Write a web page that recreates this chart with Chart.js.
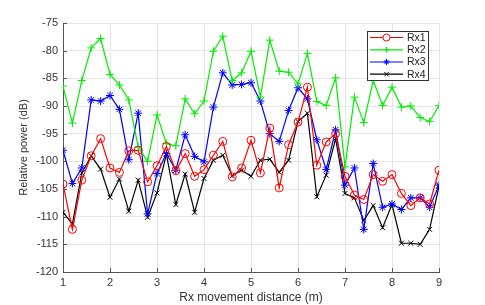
<!DOCTYPE html>
<html><head><meta charset="utf-8">
<script src="https://cdn.jsdelivr.net/npm/chart.js@4.4.0/dist/chart.umd.min.js"></script>
<style>html,body{margin:0;padding:0;background:#fff}#wrap{width:485px;height:305px}</style>
</head><body><div id="wrap"><canvas id="c" width="485" height="305"></canvas></div>
<script>
const distances = [1.0,1.2,1.4,1.6,1.8,2.0,2.2,2.4,2.6,2.8,3.0,3.2,3.4,3.6,3.8,4.0,4.2,4.4,4.6,4.8,5.0,5.2,5.4,5.6,5.8,6.0,6.2,6.4,6.6,6.8,7.0,7.2,7.4,7.6,7.8,8.0,8.2,8.4,8.6,8.8,9.0];
const rx1 = [-104.1,-112.3,-103.4,-99.0,-95.9,-101.2,-102.0,-98.1,-98.0,-103.7,-100.8,-97.3,-101.7,-98.6,-102.7,-101.5,-98.9,-96.4,-102.8,-101.2,-96.2,-102.1,-94.0,-104.8,-97.0,-92.9,-86.6,-100.7,-96.5,-95.0,-102.7,-106.1,-106.9,-102.4,-103.6,-102.4,-105.8,-108.0,-106.6,-107.7,-101.6];
const rx2 = [-86.4,-93.1,-85.4,-79.5,-77.8,-84.3,-86.2,-88.9,-97.4,-100.0,-91.6,-96.8,-97.2,-88.7,-91.4,-89.1,-80.1,-77.4,-85.4,-84.0,-80.1,-88.4,-78.1,-83.7,-83.9,-86.0,-80.5,-89.2,-89.9,-84.9,-101.0,-88.4,-93.0,-85.4,-89.9,-86.6,-90.2,-90.0,-92.1,-92.8,-89.9];
const rx3 = [-98.0,-104.0,-101.2,-88.9,-89.1,-88.1,-90.6,-99.7,-91.3,-109.5,-102.2,-98.6,-101.6,-95.2,-99.1,-100.1,-90.2,-84.0,-86.2,-86.1,-85.8,-89.1,-95.0,-96.4,-90.8,-86.7,-88.7,-96.1,-101.5,-94.3,-104.3,-101.2,-112.3,-100.4,-108.3,-107.7,-108.7,-106.6,-106.6,-108.3,-104.3];
const rx4 = [-109.2,-111.3,-102.1,-99.0,-101.4,-106.5,-103.2,-109.0,-103.4,-110.1,-105.7,-98.7,-107.8,-102.3,-109.2,-103.1,-99.8,-98.9,-102.6,-101.6,-102.7,-99.8,-99.6,-102.0,-99.8,-92.8,-91.3,-106.4,-102.5,-95.9,-105.8,-106.6,-110.7,-108.0,-112.0,-107.8,-114.8,-114.8,-115.0,-112.3,-104.5];
const seriesNames = ['Rx1','Rx2','Rx3','Rx4'];
const xTicks = [1,2,3,4,5,6,7,8,9];
const yTicks = [-120,-115,-110,-105,-100,-95,-90,-85,-80,-75];

const styles = [
  {color:'#ff0000', pointStyle:'circle', radius:4},
  {color:'#00ee00', pointStyle:'cross', radius:4},
  {color:'#0000ff', pointStyle:'star', radius:4},
  {color:'#000000', pointStyle:'crossRot', radius:3.5}
];
const allData = [rx1, rx2, rx3, rx4];
const datasets = allData.map((arr,i)=>({
  label: seriesNames[i],
  data: arr.map((v,j)=>({x:distances[j], y:v})),
  borderColor: styles[i].color,
  backgroundColor: 'rgba(0,0,0,0)',
  pointBorderColor: styles[i].color,
  pointBackgroundColor: 'rgba(0,0,0,0)',
  pointStyle: styles[i].pointStyle,
  pointRadius: styles[i].radius,
  pointBorderWidth: 1,
  borderWidth: 1.2,
  tension: 0
}));

const FONT = 'Liberation Sans, Arial, Helvetica, sans-serif';

const extras = {
  id:'extras',
  afterDraw(chart){
    const ctx = chart.ctx;
    const xs = chart.scales.x, ys = chart.scales.y;
    const a = chart.chartArea;
    ctx.save();
    ctx.strokeStyle = '#555';
    ctx.lineWidth = 1;
    ctx.beginPath();
    xTicks.forEach(t=>{const px=Math.round(xs.getPixelForValue(t))+0.5; ctx.moveTo(px,a.bottom); ctx.lineTo(px,a.bottom-4);});
    yTicks.forEach(t=>{const py=Math.round(ys.getPixelForValue(t))+0.5; ctx.moveTo(a.left,py); ctx.lineTo(a.left+4,py);});
    ctx.stroke();
    const lx=367, ly=31, lw=61, lh=49;
    ctx.fillStyle='#fff';
    ctx.fillRect(lx,ly,lw,lh);
    ctx.strokeStyle='#333';
    ctx.lineWidth=1;
    ctx.strokeRect(lx+0.5,ly+0.5,lw,lh);
    const rows=[37.5,49.8,62,74.2];
    ctx.font='10.5px '+FONT;
    ctx.textBaseline='middle';
    seriesNames.forEach((n,i)=>{
      const y=rows[i];
      ctx.strokeStyle=styles[i].color;
      ctx.lineWidth=1.2;
      ctx.beginPath(); ctx.moveTo(370,y); ctx.lineTo(403,y); ctx.stroke();
      ctx.lineWidth=1;
      Chart.helpers.drawPoint(ctx,{pointStyle:styles[i].pointStyle,radius:styles[i].pointStyle==='circle'?3.5:3,borderWidth:1},386.5,y);
      ctx.fillStyle='#222';
      ctx.fillText(n,407,y+0.5);
    });
    ctx.restore();
  }
};

new Chart(document.getElementById('c'),{
  type:'line',
  data:{datasets},
  options:{
    responsive:false,
    animation:false,
    devicePixelRatio:1,
    layout:{padding:{left:0,top:23,right:46,bottom:0}},
    plugins:{legend:{display:false},tooltip:{enabled:false}},
    scales:{
      x:{
        type:'linear', min:1, max:9,
        afterFit(s){s.height=33;},
        afterBuildTicks(s){s.ticks=xTicks.map(v=>({value:v}));},
        grid:{color:'#e6e6e6',drawTicks:false,lineWidth:1},
        border:{display:true,color:'#555',width:1},
        ticks:{color:'#333',font:{size:11,family:FONT},padding:4,maxRotation:0},
        title:{display:true,text:'Rx movement distance (m)',color:'#333',font:{size:12,family:FONT},padding:{top:0,bottom:0}}
      },
      y:{
        type:'linear', min:-120, max:-75,
        afterFit(s){s.width=63;},
        afterBuildTicks(s){s.ticks=yTicks.map(v=>({value:v}));},
        grid:{color:'#e6e6e6',drawTicks:false,lineWidth:1},
        border:{display:true,color:'#555',width:1},
        ticks:{color:'#333',font:{size:11,family:FONT},padding:5},
        title:{display:true,text:'Relative power (dB)',color:'#333',font:{size:11,family:FONT},padding:{top:17,bottom:6}}
      }
    }
  },
  plugins:[extras]
});
</script>
</body></html>
